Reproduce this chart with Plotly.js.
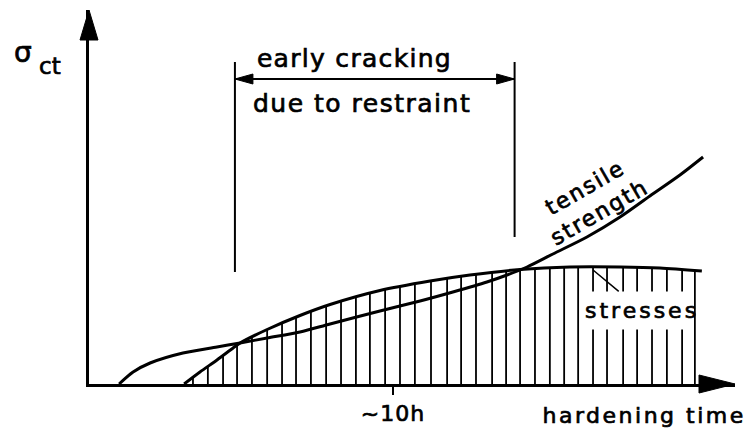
<!DOCTYPE html>
<html>
<head>
<meta charset="utf-8">
<script src="https://cdn.plot.ly/plotly-3.0.1.min.js"></script>
<style>
  html, body { margin: 0; padding: 0; background: #fff; }
  #chart { width: 750px; height: 430px; }
  .annotation text, .xtick text { stroke: #000; stroke-width: 0.7px; }
  .annotation[data-index="2"] text { letter-spacing: 1.3px; }
  .annotation[data-index="3"] text { letter-spacing: 1.5px; }
  .annotation[data-index="4"] text { letter-spacing: 2px; }
  .annotation[data-index="5"] text { letter-spacing: 3px; }
  .annotation[data-index="6"] text { letter-spacing: 2.5px; }
  .xtick text { letter-spacing: 1px; }
</style>
</head>
<body>
<div id="chart"></div>
<script>
// ---- data (time in hours, stress in arbitrary units) ----
const stressTime = [3.13, 3.65, 4.21, 4.74, 4.97, 5.86, 6.94, 7.93, 9.57, 11.22, 12.53, 14.18, 15.82, 17.47, 18.78, 20.16];
const stressValue = [0.00, 0.12, 0.24, 0.36, 0.41, 0.545, 0.685, 0.795, 0.935, 1.03, 1.09, 1.145, 1.17, 1.17, 1.16, 1.13];

const strengthTime = [0.99, 1.45, 2.01, 3.09, 4.21, 4.97, 5.86, 6.94, 7.93, 9.57, 10.89, 11.97, 13.09, 13.75, 14.41, 15.26, 16.38, 17.47, 18.45, 19.44, 20.20];
const strengthValue = [0.00, 0.12, 0.21, 0.31, 0.37, 0.41, 0.46, 0.52, 0.60, 0.73, 0.83, 0.92, 1.02, 1.09, 1.17, 1.30, 1.47, 1.67, 1.88, 2.09, 2.27];

// positions of the vertical hatch lines under the stress curve (hours)
const hatchTimes = [3.42, 3.91, 4.41, 4.87, 5.36, 5.86, 6.35, 6.81, 7.30, 7.80, 8.29, 8.78, 9.24, 9.74, 10.23, 10.72, 11.25, 11.78, 12.24, 12.73, 13.26, 13.72, 14.18, 14.67, 15.16, 15.63, 16.09, 16.58, 17.04, 17.57, 18.03, 18.52, 19.01, 19.51, 19.93];

// "early cracking" window (hours) and the bracket heights
const windowTimes = [4.80, 14.0];
const windowBottoms = [1.12, 1.47];
const windowTop = 3.22;
const windowArrowLevel = 3.05;

const tickValues = [10];
const tickLabels = ['~10h'];

const xMax = 21.25;
const yMax = 3.74;

// ---- helpers ----
function interp(xs, ys, x) {
  if (x <= xs[0]) return ys[0];
  for (let i = 1; i < xs.length; i++) {
    if (x <= xs[i]) {
      const t = (x - xs[i - 1]) / (xs[i] - xs[i - 1]);
      return ys[i - 1] + t * (ys[i] - ys[i - 1]);
    }
  }
  return ys[ys.length - 1];
}

const hatchX = [], hatchY = [];
hatchTimes.forEach(t => {
  hatchX.push(t, t, null);
  hatchY.push(0, interp(stressTime, stressValue, t), null);
});

const FONT = 'DejaVu Sans, Verdana, sans-serif';
const BLACK = '#000';
function f(size) { return { family: FONT, size: size, color: BLACK }; }

const traces = [
  { x: hatchX, y: hatchY, mode: 'lines', line: { color: BLACK, width: 1.8 }, hoverinfo: 'skip', showlegend: false },
  { x: stressTime, y: stressValue, mode: 'lines', line: { color: BLACK, width: 3, shape: 'spline', smoothing: 0.8 }, name: 'stresses', showlegend: false },
  { x: strengthTime, y: strengthValue, mode: 'lines', line: { color: BLACK, width: 3, shape: 'spline', smoothing: 0.8 }, name: 'tensile strength', showlegend: false }
];

const shapes = [
  { type: 'line', xref: 'x', yref: 'y', x0: windowTimes[0], x1: windowTimes[0], y0: windowBottoms[0], y1: windowTop, line: { color: BLACK, width: 2 } },
  { type: 'line', xref: 'x', yref: 'y', x0: windowTimes[1], x1: windowTimes[1], y0: windowBottoms[1], y1: windowTop, line: { color: BLACK, width: 2 } },
  { type: 'line', xref: 'x', yref: 'y', x0: windowTimes[0], x1: windowTimes[1], y0: windowArrowLevel, y1: windowArrowLevel, line: { color: BLACK, width: 2 } },
  { type: 'path', xref: 'x', yref: 'y', xsizemode: 'pixel', ysizemode: 'pixel', xanchor: windowTimes[0], yanchor: windowArrowLevel,
    path: 'M0,0 L18,5 L18,-5 Z', fillcolor: BLACK, line: { color: BLACK, width: 1 } },
  { type: 'path', xref: 'x', yref: 'y', xsizemode: 'pixel', ysizemode: 'pixel', xanchor: windowTimes[1], yanchor: windowArrowLevel,
    path: 'M0,0 L-18,5 L-18,-5 Z', fillcolor: BLACK, line: { color: BLACK, width: 1 } },
  { type: 'path', xref: 'paper', yref: 'paper', xsizemode: 'pixel', ysizemode: 'pixel', xanchor: 0, yanchor: 1,
    path: 'M0,0 L-9,-30 L9,-30 Z', fillcolor: BLACK, line: { color: BLACK, width: 1 } },
  { type: 'path', xref: 'paper', yref: 'paper', xsizemode: 'pixel', ysizemode: 'pixel', xanchor: 1, yanchor: 0,
    path: 'M0,0 L-36,9 L-36,-9 Z', fillcolor: BLACK, line: { color: BLACK, width: 1 } }
];

const C = { xanchor: 'center', yanchor: 'middle' };
const annotations = [
  Object.assign({ x: -0.1014, y: 0.8864, xref: 'paper', yref: 'paper', text: 'σ', showarrow: false, font: f(28) }, C),
  Object.assign({ x: -0.0611, y: 0.8503, xref: 'paper', yref: 'paper', text: 'ct', showarrow: false, font: f(23) }, C),
  Object.assign({ x: 8.72, y: 3.256, xref: 'x', yref: 'y', text: 'early cracking', showarrow: false, font: f(25) }, C),
  Object.assign({ x: 8.98, y: 2.806, xref: 'x', yref: 'y', text: 'due to restraint', showarrow: false, font: f(25) }, C),
  Object.assign({ x: 16.56, y: 1.84, xref: 'x', yref: 'y', text: 'tensile<br>strength', showarrow: false, textangle: -30, align: 'center', font: f(22) }, C),
  Object.assign({ x: 16.58, y: 1.14, xref: 'x', yref: 'y', text: 'stresses', showarrow: true, arrowhead: 0, arrowwidth: 1.5, arrowcolor: BLACK, ax: 48.5, ay: 40.4, standoff: 0,
    bgcolor: '#fff', borderpad: 6, font: f(22) }, C),
  Object.assign({ x: 0.8591, y: -0.084, xref: 'paper', yref: 'paper', text: 'hardening time', showarrow: false, font: f(22) }, C)
];

const layout = {
  width: 750, height: 430,
  margin: { l: 89, r: 15, t: 10, b: 46, pad: 0 },
  paper_bgcolor: '#fff', plot_bgcolor: '#fff',
  showlegend: false,
  xaxis: {
    range: [0, xMax], showline: true, linewidth: 3, linecolor: BLACK, showgrid: false, zeroline: false,
    tickmode: 'array', tickvals: tickValues, ticktext: tickLabels, ticks: 'outside', ticklen: 8, tickwidth: 2, tickcolor: BLACK,
    tickfont: f(22), fixedrange: true
  },
  yaxis: {
    range: [0, yMax], showline: true, linewidth: 3, linecolor: BLACK, showgrid: false, zeroline: false,
    showticklabels: false, ticks: '', fixedrange: true
  },
  shapes: shapes,
  annotations: annotations
};

Plotly.newPlot('chart', traces, layout, { staticPlot: true, displayModeBar: false });
</script>
</body>
</html>
